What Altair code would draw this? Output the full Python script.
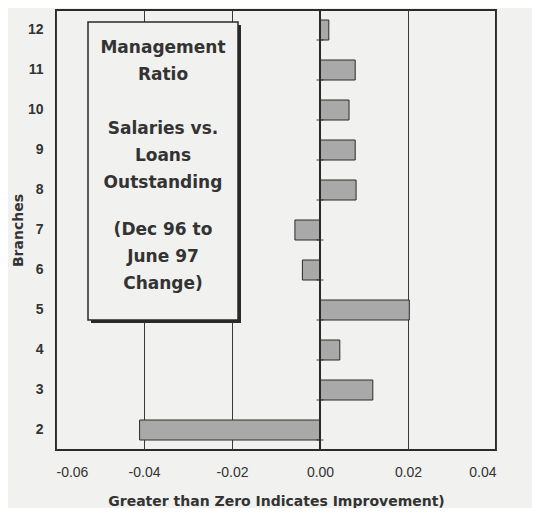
import altair as alt
import pandas as pd

branches = ["12", "11", "10", "9", "8", "7", "6", "5", "4", "3", "2"]
changes = [0.002, 0.008, 0.0066, 0.008, 0.0082, -0.0057, -0.004, 0.0203, 0.0045, 0.012, -0.041]
x_ticks = [-0.06, -0.04, -0.02, 0.0, 0.02, 0.04]
box_group1 = ["Management", "Ratio"]
box_group2 = ["Salaries vs.", "Loans", "Outstanding"]
box_group3 = ["(Dec 96 to", "June 97", "Change)"]
x_title = "Greater than Zero Indicates Improvement)"
y_title = "Branches"

df = pd.DataFrame({"branch": branches, "change": changes})
bg = "#f1f1ef"

xscale = alt.Scale(domain=[-0.06, 0.04], nice=False, zero=False)
yscale = alt.Scale(domain=branches, paddingInner=0.5, paddingOuter=0.25)

bars = alt.Chart(df).mark_bar(fill="#a9a9a9", stroke="#2a2a2a", strokeWidth=1).encode(
    x=alt.X("change:Q", scale=xscale,
            axis=alt.Axis(values=x_ticks, title=x_title, grid=True,
                          labelExpr="replace(format(datum.value, '.2f'), '\u2212', '-')",
                          gridColor="#3a3a3a", gridWidth=1, domain=False, ticks=False,
                          labelFont="Liberation Sans", labelFontSize=14, labelColor="#333",
                          labelPadding=15, titleFont="DejaVu Sans", titleFontSize=14,
                          titleFontWeight="bold", titleColor="#333", titlePadding=15)),
    x2=alt.datum(0),
    y=alt.Y("branch:N", sort=branches, scale=yscale,
            axis=alt.Axis(title=y_title, ticks=False, domain=False, grid=False,
                          labelFont="Liberation Sans", labelFontSize=14, labelFontWeight="bold",
                          labelColor="#333", labelPadding=13, titleFont="DejaVu Sans",
                          titleFontSize=14, titleFontWeight="bold", titleColor="#333",
                          titlePadding=2)),
)

zero_line = alt.Chart(df).mark_rule(color="#2a2a2a", strokeWidth=1.5).encode(
    x=alt.datum(0, scale=xscale)
)

zero_ticks = alt.Chart(df).mark_tick(color="#2a2a2a", thickness=1.2, size=7, orient="horizontal").encode(
    x=alt.datum(0),
    y=alt.Y("branch:N", sort=branches),
    yOffset=alt.value(20),
)

box_df = pd.DataFrame({"k": [0]})
box_shadow = alt.Chart(box_df).mark_rect(fill="#2a2a2a").encode(
    x=alt.value(35), x2=alt.value(185), y=alt.value(15), y2=alt.value(313)
)
box = alt.Chart(box_df).mark_rect(fill=bg, stroke="#2a2a2a", strokeWidth=1.5).encode(
    x=alt.value(32), x2=alt.value(182), y=alt.value(12), y2=alt.value(310)
)


def box_text(lines, top):
    return alt.Chart(box_df).mark_text(
        font="DejaVu Sans", fontSize=17, fontWeight="bold", color="#333",
        align="center", baseline="top", lineHeight=27
    ).encode(x=alt.value(107), y=alt.value(top), text=alt.value(lines))


chart = alt.layer(
    bars, zero_line, zero_ticks, box_shadow, box,
    box_text(box_group1, 30), box_text(box_group2, 111), box_text(box_group3, 212)
).resolve_scale(y="shared").properties(
    width=440, height=440, background=bg,
    autosize=alt.AutoSizeParams(type="none"),
    padding={"left": 48, "top": 2, "right": 36, "bottom": 58},
).configure_view(stroke="#2a2a2a", strokeWidth=2)

chart.save("out.html", embed_options={"renderer": "svg", "actions": False})
